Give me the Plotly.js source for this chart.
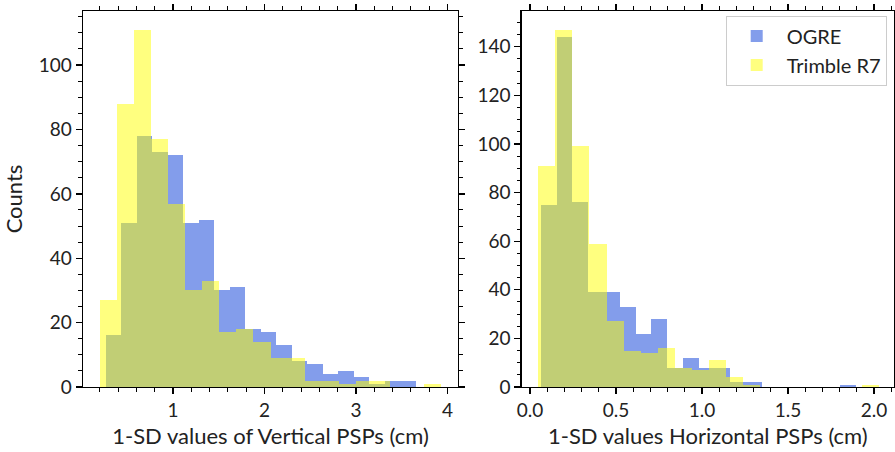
<!DOCTYPE html>
<html><head><meta charset="utf-8">
<script src="https://cdn.plot.ly/plotly-3.0.1.min.js"></script>
<style>html,body{margin:0;padding:0;background:#fff}</style>
</head><body><div id="chart" style="width:895px;height:452px"></div>
<script>
const seriesNames = ['OGRE', 'Trimble R7'];

// Vertical PSPs: bin start, bin width, counts per bin
const vertOgreStart = 0.2636, vertOgreWidth = 0.1695;
const vertOgreCounts = [16, 51, 78, 73, 72, 51, 52, 30, 31, 18, 17, 13, 8, 7, 4, 5, 3, 1, 2, 2];
const vertTrimbleStart = 0.198, vertTrimbleWidth = 0.1868;
const vertTrimbleCounts = [27, 88, 111, 77, 57, 30, 33, 17, 18, 14, 9, 9, 2, 2, 1, 2, 2, 0, 0, 1];

// Horizontal PSPs
const horOgreStart = 0.064, horOgreWidth = 0.09157;
const horOgreCounts = [75, 144, 76, 39, 39, 33, 22, 28, 8, 12, 8, 8, 2, 2, 0, 0, 0, 0, 0, 1];
const horTrimbleStart = 0.0483, horTrimbleWidth = 0.09914;
const horTrimbleCounts = [91, 147, 99, 59, 27, 15, 14, 16, 8, 7, 11, 4, 1, 0, 0, 0, 0, 0, 0, 1];

const xTitles = ['1-SD values of Vertical PSPs (cm)', '1-SD values Horizontal PSPs (cm)'];
const yTitle = 'Counts';

const blue = 'rgba(65,105,225,0.65)';
const yellow = 'rgba(255,255,0,0.5)';
const FONT = 'Lato, "Open Sans", sans-serif';

function centers(start, width, n) {
  return Array.from({length: n}, (_, i) => start + (i + 0.5) * width);
}
function histTrace(name, start, width, counts, color, xa, ya, showlegend) {
  return {
    type: 'bar', name: name,
    x: centers(start, width, counts.length), y: counts,
    width: counts.map(() => width),
    marker: {color: color, line: {width: 0}},
    xaxis: xa, yaxis: ya, showlegend: showlegend, hoverinfo: 'skip'
  };
}

const traces = [
  histTrace(seriesNames[0], vertOgreStart, vertOgreWidth, vertOgreCounts, blue, 'x', 'y', false),
  histTrace(seriesNames[1], vertTrimbleStart, vertTrimbleWidth, vertTrimbleCounts, yellow, 'x', 'y', false),
  histTrace(seriesNames[0], horOgreStart, horOgreWidth, horOgreCounts, blue, 'x2', 'y2', true),
  histTrace(seriesNames[1], horTrimbleStart, horTrimbleWidth, horTrimbleCounts, yellow, 'x2', 'y2', true)
];

const common = {
  ticks: 'outside', ticklen: 6, tickwidth: 1.3, tickcolor: '#000',
  showline: true, linecolor: '#000', linewidth: 1.3, mirror: 'allticks',
  showgrid: false, zeroline: false,
  tickfont: {family: FONT, size: 19, color: '#222'},
  minor: {ticks: 'outside', ticklen: 3.5, tickwidth: 1, tickcolor: '#000', showgrid: false}
};
const titleFont = {family: FONT, size: 22, color: '#222'};

const layout = {
  width: 895, height: 452,
  margin: {l: 83, r: 1, t: 11, b: 65},
  paper_bgcolor: '#fff', plot_bgcolor: '#fff',
  barmode: 'overlay', bargap: 0,
  font: {family: FONT, color: '#222'},
  xaxis: Object.assign({}, common, {
    domain: [0, 0.4624], range: [0.015, 4.116], tick0: 0, dtick: 1,
    minor: Object.assign({}, common.minor, {dtick: 0.2, tick0: 0}),
    title: {text: xTitles[0], font: titleFont, standoff: 8},
    anchor: 'y'
  }),
  yaxis: Object.assign({}, common, {
    domain: [0, 1], range: [0, 116.8], tick0: 0, dtick: 20,
    minor: Object.assign({}, common.minor, {dtick: 5, tick0: 0}),
    title: {text: yTitle, font: titleFont, standoff: 10},
    anchor: 'x'
  }),
  xaxis2: Object.assign({}, common, {
    domain: [0.5409, 1], range: [-0.0483, 2.116], tick0: 0, dtick: 0.5, tickformat: '.1f',
    minor: Object.assign({}, common.minor, {dtick: 0.1, tick0: 0}),
    title: {text: xTitles[1], font: titleFont, standoff: 8},
    anchor: 'y2'
  }),
  yaxis2: Object.assign({}, common, {
    domain: [0, 1], range: [0, 154.7], tick0: 0, dtick: 20,
    minor: Object.assign({}, common.minor, {dtick: 5, tick0: 0}),
    anchor: 'x2'
  }),
  legend: {
    x: 0.991, y: 0.988, xanchor: 'right', yanchor: 'top',
    bgcolor: '#fff', bordercolor: '#ccc', borderwidth: 1,
    font: {family: FONT, size: 20, color: '#222'}, itemwidth: 50,
    tracegroupgap: 4
  },
  showlegend: true
};

Plotly.newPlot('chart', traces, layout, {staticPlot: true, displayModeBar: false});
</script>
</body></html>
